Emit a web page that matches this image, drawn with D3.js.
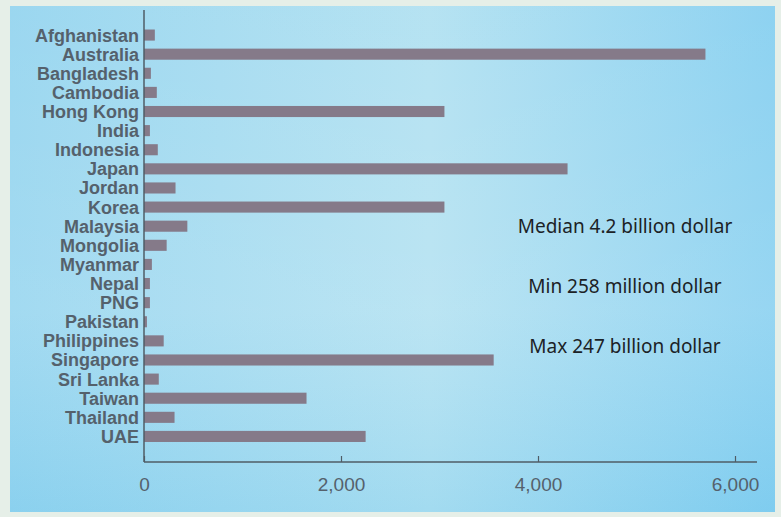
<!DOCTYPE html>
<html><head><meta charset="utf-8">
<script src="https://cdn.jsdelivr.net/npm/d3@7"></script>
<style>
html,body{margin:0;padding:0;background:#e6efe8;}
svg{display:block;}
</style></head>
<body>
<svg id="chart" width="781" height="517"></svg>
<script>
const categories = ["Afghanistan","Australia","Bangladesh","Cambodia","Hong Kong","India","Indonesia","Japan","Jordan","Korea","Malaysia","Mongolia","Myanmar","Nepal","PNG","Pakistan","Philippines","Singapore","Sri Lanka","Taiwan","Thailand","UAE"];
const values = [110,5700,70,130,3050,60,140,4300,320,3050,440,230,80,60,60,30,200,3550,150,1650,310,2250];
const xTicks = [0,2000,4000,6000];
const notes = ["Median 4.2 billion dollar","Min 258 million dollar","Max 247 billion dollar"];

const svg = d3.select("#chart");
const defs = svg.append("defs");
const g1 = defs.append("linearGradient").attr("id","bg").attr("x1","0").attr("y1","0").attr("x2","1").attr("y2","0");
g1.append("stop").attr("offset","0").attr("stop-color","#96d5ef");
g1.append("stop").attr("offset","0.55").attr("stop-color","#b2e1f1");
g1.append("stop").attr("offset","1").attr("stop-color","#88d0f0");
const g2 = defs.append("linearGradient").attr("id","bgv").attr("x1","0").attr("y1","0").attr("x2","0").attr("y2","1");
g2.append("stop").attr("offset","0").attr("stop-color","#ffffff").attr("stop-opacity","0.05");
g2.append("stop").attr("offset","0.6").attr("stop-color","#ffffff").attr("stop-opacity","0.12");
g2.append("stop").attr("offset","1").attr("stop-color","#4ab8ea").attr("stop-opacity","0.15");

svg.append("rect").attr("x",10).attr("y",6).attr("width",765).attr("height",506).attr("fill","url(#bg)");
svg.append("rect").attr("x",10).attr("y",6).attr("width",765).attr("height",506).attr("fill","url(#bgv)");

const x0 = 144, x1 = 735;
const x = d3.scaleLinear().domain([0,6000]).range([x0,x1]);
const y = d3.scaleBand().domain(categories).range([25.5,446]).paddingInner(0.42).paddingOuter(0.21);

const barColor = "#857a89";
svg.append("g").selectAll("rect").data(categories).join("rect")
  .attr("x", x(0))
  .attr("y", d => y(d))
  .attr("width", (d,i) => x(values[i]) - x(0))
  .attr("height", y.bandwidth())
  .attr("fill", barColor);

// y axis
const yAxis = svg.append("g").attr("transform",`translate(${x0},0)`)
  .call(d3.axisLeft(y).tickSize(0).tickPadding(5));
yAxis.select(".domain").attr("stroke","#4f5c66").attr("stroke-width",1.5).attr("d",`M0,10V462`);
yAxis.selectAll("text").attr("font-family","'Liberation Sans', Arial, sans-serif")
  .attr("font-size",18).attr("font-weight","bold").attr("fill","#55616c").attr("dy","0.36em");

// x axis
const xAxis = svg.append("g").attr("transform",`translate(0,462)`)
  .call(d3.axisBottom(x).tickValues(xTicks).tickFormat(d3.format(",")).tickSize(-6).tickPadding(16));
xAxis.select(".domain").attr("stroke","#4f5c66").attr("stroke-width",1.5).attr("d",`M${x0},0H${x1+22}`);
xAxis.selectAll(".tick line").attr("stroke","#4f5c66").attr("stroke-width",1.2);
xAxis.selectAll("text").attr("font-family","'Liberation Sans', Arial, sans-serif")
  .attr("font-size",19).attr("fill","#55616c");

// annotations
svg.append("g").selectAll("text").data(notes).join("text")
  .attr("x",625).attr("y",(d,i)=>233 + i*60)
  .attr("text-anchor","middle")
  .attr("font-family","'Noto Sans', sans-serif")
  .attr("font-size",19).attr("fill","#1c2226")
  .text(d=>d);
</script>
</body></html>
